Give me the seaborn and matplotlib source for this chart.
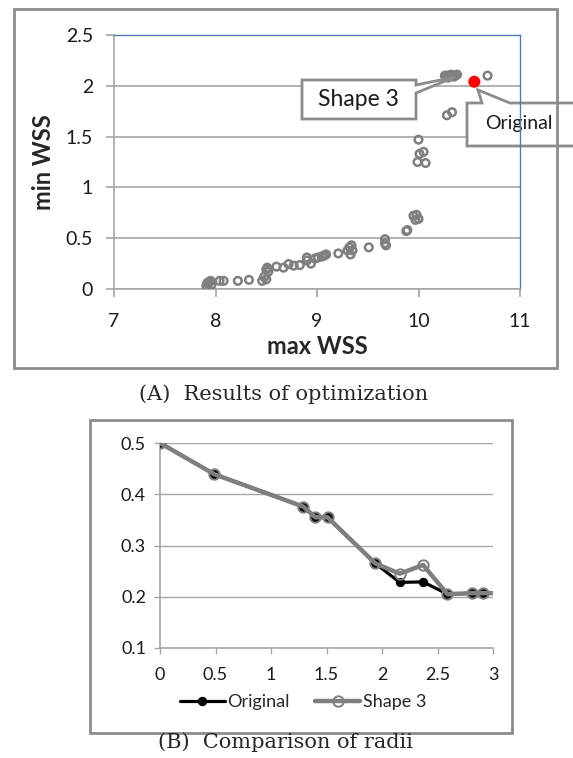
import matplotlib
matplotlib.use("Agg")
import matplotlib.pyplot as plt
from matplotlib.patches import Rectangle, Polygon
import seaborn as sns

# (A) optimization results: max WSS vs min WSS of each candidate shape
max_wss = [7.91, 7.93, 7.94, 7.95, 7.92, 7.96, 8.04, 8.08, 8.22, 8.33,
           8.46, 8.50, 8.48, 8.50, 8.51, 8.52, 8.60, 8.67, 8.72, 8.77,
           8.83, 8.90, 8.90, 8.94, 8.98, 9.01, 9.05, 9.07, 9.09, 9.21,
           9.30, 9.32, 9.34, 9.33, 9.35, 9.51, 9.67, 9.67, 9.68, 9.88,
           9.89, 9.95, 9.98, 9.97, 10.00, 10.00, 10.01, 10.05, 9.99, 10.07,
           10.28, 10.33, 10.26, 10.28, 10.30, 10.32, 10.34, 10.36, 10.38,
           10.29, 10.35, 10.68]
min_wss = [0.03, 0.05, 0.07, 0.08, 0.06, 0.04, 0.08, 0.08, 0.08, 0.09,
           0.08, 0.095, 0.12, 0.19, 0.21, 0.17, 0.22, 0.21, 0.245, 0.23,
           0.235, 0.31, 0.28, 0.25, 0.30, 0.31, 0.32, 0.33, 0.34, 0.35,
           0.38, 0.41, 0.43, 0.34, 0.38, 0.41, 0.49, 0.45, 0.43, 0.57,
           0.58, 0.72, 0.73, 0.68, 0.69, 1.47, 1.33, 1.35, 1.25, 1.24,
           1.71, 1.74, 2.10, 2.10, 2.09, 2.11, 2.10, 2.10, 2.11,
           2.08, 2.09, 2.10]
orig_max_wss = [10.55]
orig_min_wss = [2.04]

# (B) radii along the vessel
position = [0, 0.49, 1.29, 1.40, 1.51, 1.94, 2.16, 2.37, 2.59, 2.81, 2.91, 3.0]
radius_original = [0.5, 0.439, 0.376, 0.355, 0.355, 0.265, 0.228, 0.229,
                   0.205, 0.207, 0.207, 0.207]
radius_shape3 = [0.5, 0.439, 0.376, 0.355, 0.355, 0.265, 0.245, 0.262,
                 0.205, 0.207, 0.207, 0.207]

sns.set_theme(style="white")
plt.rcParams['font.family'] = ['Lato', 'DejaVu Sans']

W, H = 573, 758
fig = plt.figure(figsize=(W / 100, H / 100), dpi=100)


def fx(x, y):
    # pixel position (from top-left) -> figure fraction
    return (x / W, 1 - y / H)


GRID = '#a6a6a6'
FRAME = '#8c8c8c'
PT_GRAY = '#7f7f7f'

# outer frames of both charts
for (x0, y0, x1, y1) in [(14, 9, 557, 368), (90, 420, 512, 733)]:
    fig.patches.append(Rectangle(fx(x0, y1), (x1 - x0) / W, (y1 - y0) / H,
                                 transform=fig.transFigure, fill=False,
                                 edgecolor=FRAME, lw=2))

# ---------- (A) scatter ----------
ax1 = fig.add_axes([114 / W, 1 - 289 / H, 406 / W, 254 / H])
sns.scatterplot(x=max_wss, y=min_wss, ax=ax1, s=30, color=PT_GRAY,
                facecolor='none', edgecolor=PT_GRAY, linewidth=1.8, zorder=3)
sns.scatterplot(x=orig_max_wss, y=orig_min_wss, ax=ax1, s=75, color='#ff0000',
                edgecolor='none', linewidth=0, zorder=4)
ax1.set_xlim(7, 11)
ax1.set_ylim(0, 2.5)
ax1.set_xticks([7, 8, 9, 10, 11])
ax1.set_yticks([0, 0.5, 1, 1.5, 2, 2.5])
ax1.set_yticklabels(['0', '0.5', '1', '1.5', '2', '2.5'])
ax1.grid(axis='y', color=GRID, lw=1.2)
ax1.set_axisbelow(True)
for s in ['top', 'right']:
    ax1.spines[s].set_color('#4a7ebb')
    ax1.spines[s].set_linewidth(1.0)
for s in ['left', 'bottom']:
    ax1.spines[s].set_color(GRID)
    ax1.spines[s].set_linewidth(1.2)
ax1.tick_params(axis='both', which='both', direction='out', length=6,
                width=1.2, color=GRID, labelsize=14, labelcolor='#1a1a1a')
ax1.tick_params(axis='y', pad=9, left=True)
ax1.tick_params(axis='x', pad=11, bottom=True)
ax1.set_xlabel('max WSS', fontsize=17, fontweight='bold', labelpad=4)
ax1.set_ylabel('min WSS', fontsize=17, fontweight='bold', labelpad=8)

# callouts
shape3_box = [(302, 80), (416, 80), (416, 85), (455, 77), (416, 93),
              (416, 119), (302, 119)]
fig.patches.append(Polygon([fx(*p) for p in shape3_box], closed=True,
                           transform=fig.transFigure, facecolor='white',
                           edgecolor=FRAME, lw=2, zorder=5))
fig.text(*fx(358, 100), 'Shape 3', fontsize=16.5, ha='center', va='center',
         color='#1a1a1a', zorder=6)

orig_box = [(467, 103), (482, 103), (478, 90), (510, 103), (575, 103),
            (575, 146), (467, 146)]
ax1.add_patch(Polygon([fx(*p) for p in orig_box], closed=True,
                      transform=fig.transFigure, facecolor='white',
                      edgecolor=FRAME, lw=2, zorder=2, clip_on=False))
ax1.text(*fx(519, 124), 'Original', transform=fig.transFigure, fontsize=14,
         ha='center', va='center', color='#1a1a1a', zorder=2.2)

fig.text(*fx(284, 394), '(A)  Results of optimization', fontsize=15,
         family='DejaVu Serif', ha='center', va='center')

# ---------- (B) radii ----------
ax2 = fig.add_axes([160 / W, 1 - 648 / H, 333 / W, 205 / H])
sns.lineplot(x=position, y=radius_original, ax=ax2, color='black', lw=2.3,
             marker='o', markersize=6, markeredgecolor='black',
             markerfacecolor='black', markevery=list(range(11)),
             label='Original', zorder=3)
sns.lineplot(x=position, y=radius_shape3, ax=ax2, color=PT_GRAY, lw=3.2,
             marker='o', markersize=7.5, markeredgecolor=PT_GRAY,
             markerfacecolor='none', markeredgewidth=1.4,
             markevery=list(range(11)), label='Shape 3', zorder=4)
ax2.set_xlim(0, 3)
ax2.set_ylim(0.1, 0.5)
ax2.set_xticks([0, 0.5, 1, 1.5, 2, 2.5, 3])
ax2.set_xticklabels(['0', '0.5', '1', '1.5', '2', '2.5', '3'])
ax2.set_yticks([0.1, 0.2, 0.3, 0.4, 0.5])
ax2.grid(axis='y', color=GRID, lw=1.0)
ax2.set_axisbelow(True)
for s in ['top', 'right']:
    ax2.spines[s].set_visible(False)
for s in ['left', 'bottom']:
    ax2.spines[s].set_color(GRID)
    ax2.spines[s].set_linewidth(1.2)
ax2.tick_params(axis='both', direction='out', length=4, width=1.0,
                color=GRID, labelsize=13, labelcolor='#1a1a1a')
ax2.tick_params(axis='x', pad=10, bottom=True)
ax2.tick_params(axis='y', pad=6, left=True)
ax2.set_xlabel('')
ax2.set_ylabel('')
ax2.legend(loc='center', bbox_to_anchor=fx(303, 702),
           bbox_transform=fig.transFigure, ncol=2, frameon=False,
           fontsize=13, handlelength=2.5, handletextpad=0.15,
           columnspacing=1.4, borderaxespad=0)

fig.text(*fx(285, 742), '(B)  Comparison of radii', fontsize=15,
         family='DejaVu Serif', ha='center', va='center')

fig.savefig('out.png', dpi=100)
